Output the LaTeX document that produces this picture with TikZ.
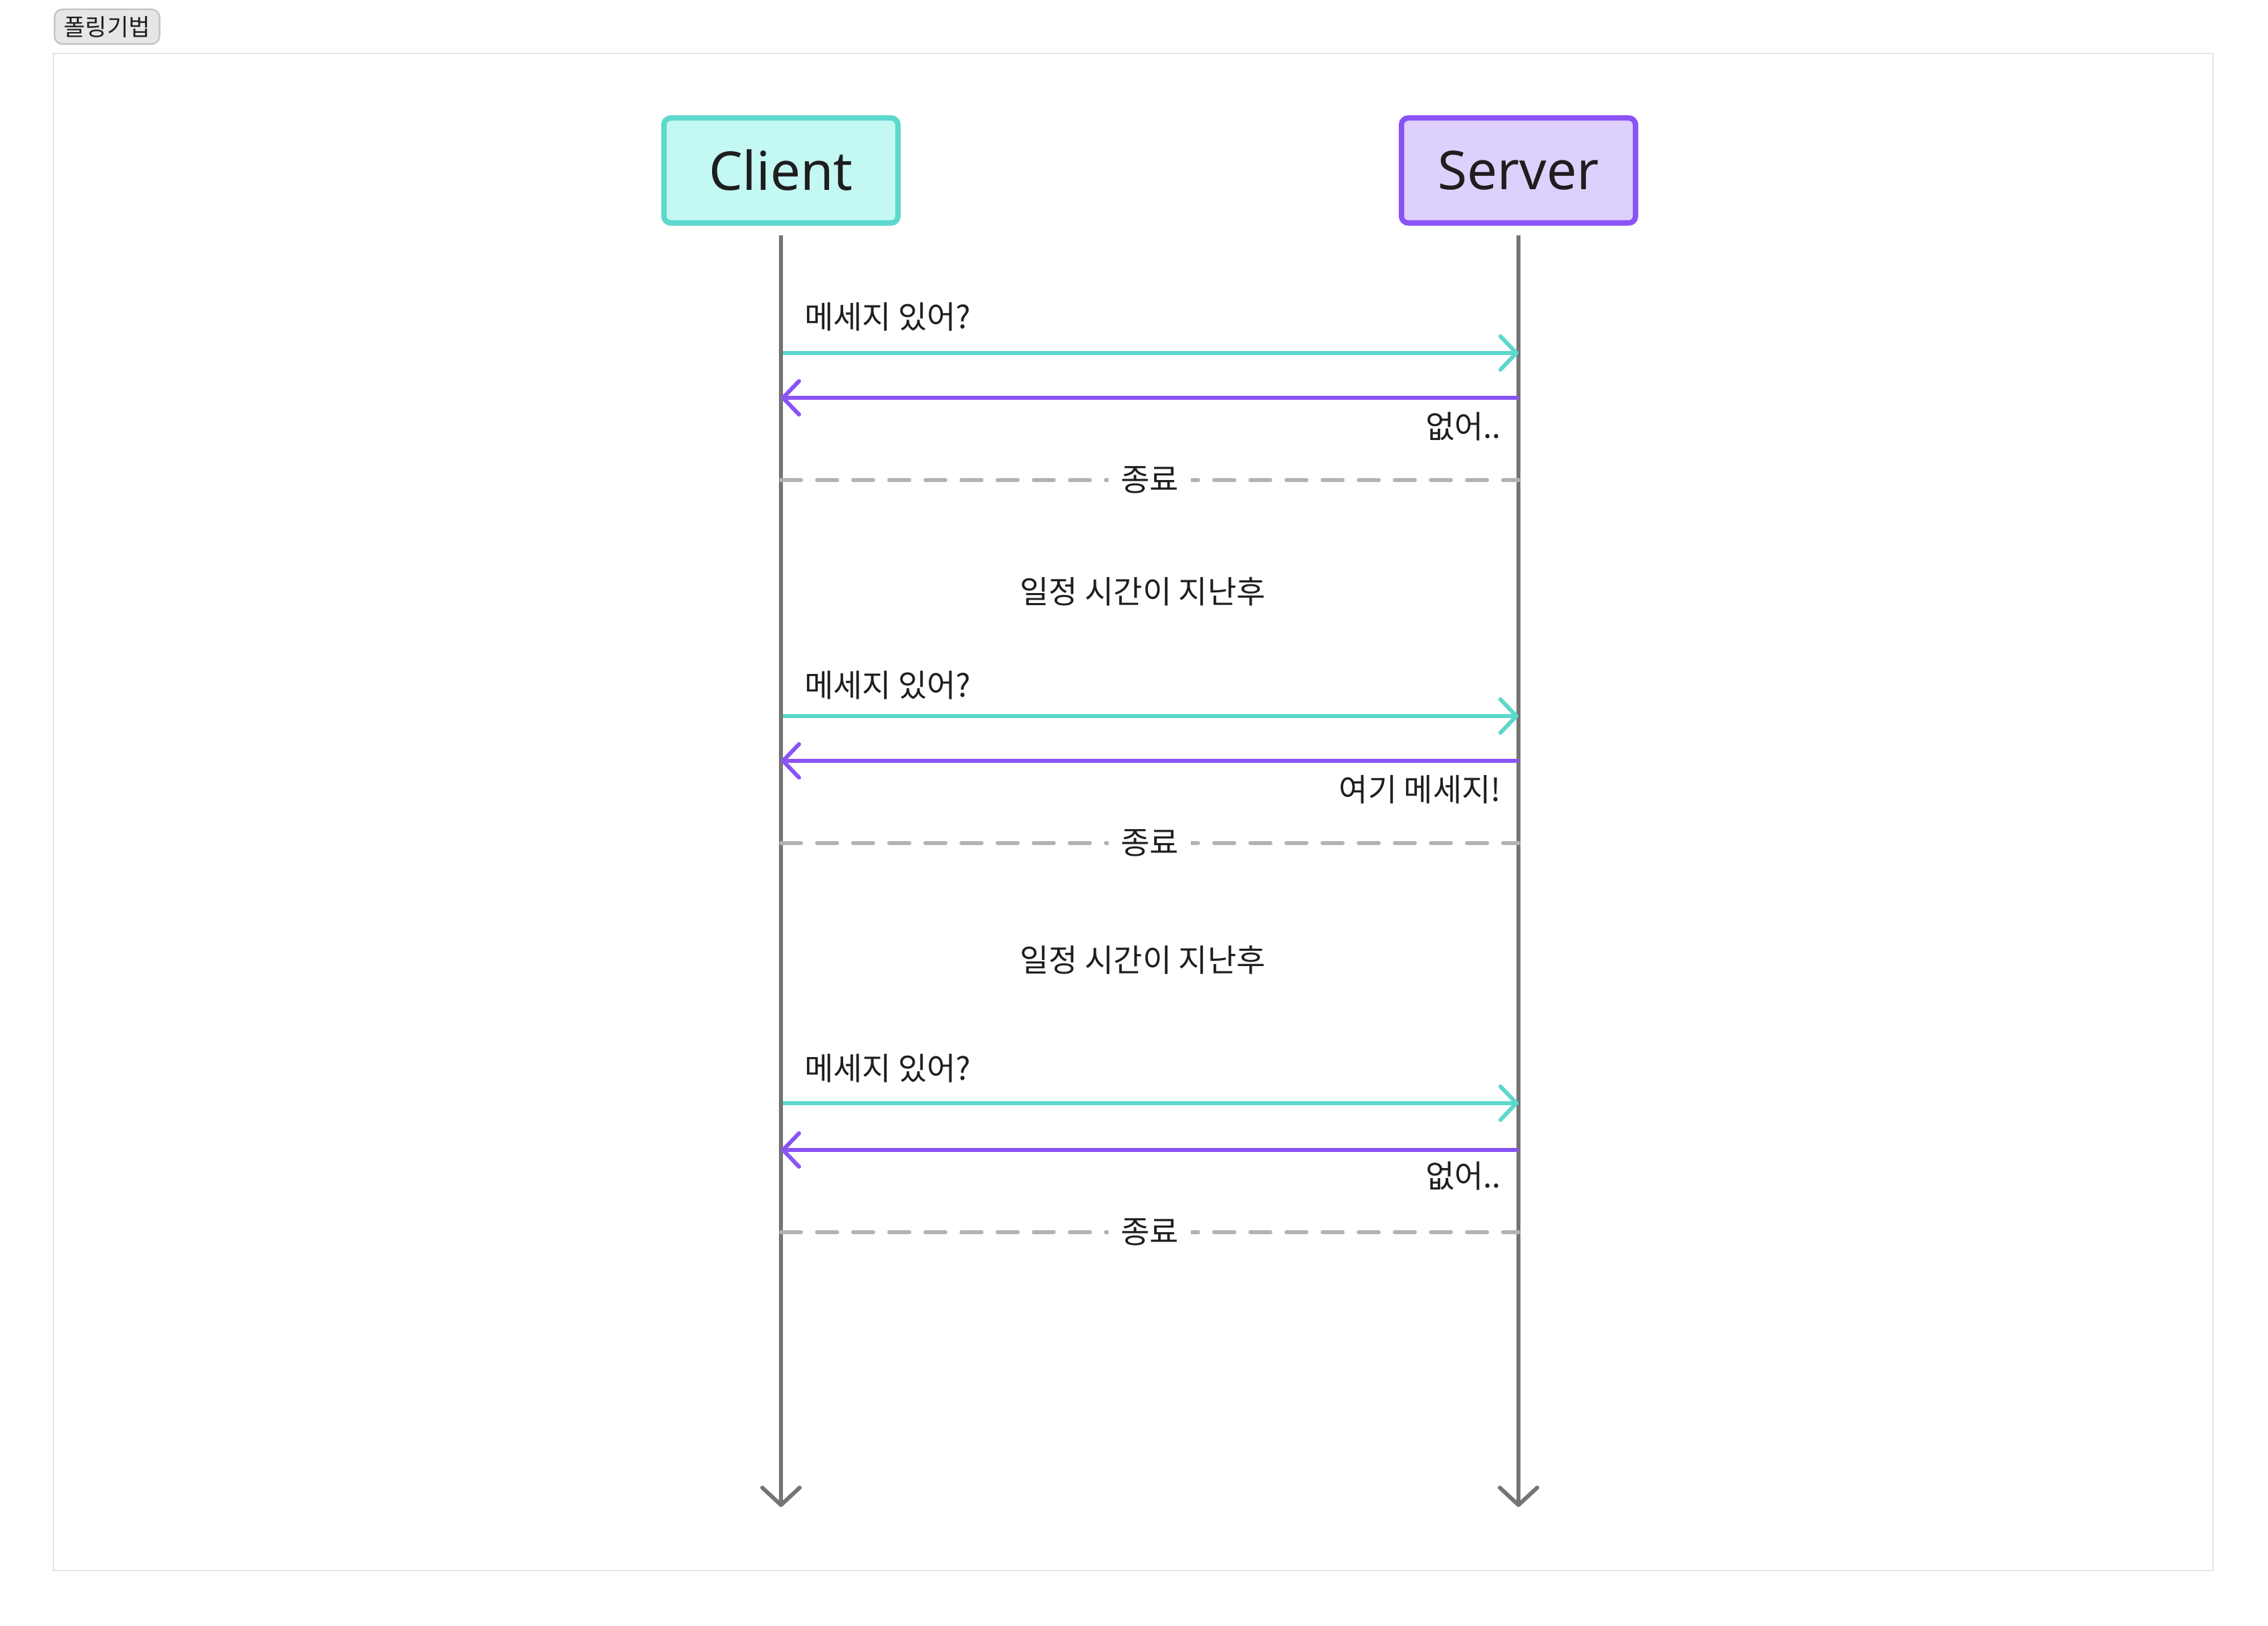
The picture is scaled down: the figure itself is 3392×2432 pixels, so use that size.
\documentclass[tikz,border=0pt]{standalone}
\usepackage{fontspec}
\setmainfont{Noto Sans CJK KR}
\newfontfamily\latinf{Noto Sans}
\usetikzlibrary{arrows.meta}
\definecolor{tealc}{HTML}{5CD8CC}
\definecolor{tealfill}{HTML}{C4F8F2}
\definecolor{purc}{HTML}{8A53F5}
\definecolor{purfill}{HTML}{DDD0FD}
\definecolor{lgray}{HTML}{757575}
\definecolor{dgray}{HTML}{B3B3B3}
\definecolor{txt}{HTML}{1E1E1E}
\definecolor{frame}{HTML}{E5E5E5}
\definecolor{tagfill}{HTML}{E6E6E6}
\definecolor{tagdraw}{HTML}{C6C6C6}
\begin{document}
\begin{tikzpicture}[x=1pt,y={(0pt,-1pt)},
  actor/.style={draw, line width=8pt, rounded corners=10pt, minimum width=350pt, minimum height=157pt, inner sep=0pt, font=\latinf\fontsize{80}{96}\selectfont, text=txt},
  lifeline/.style={draw=lgray, line width=6pt, shorten <=14pt, -{Straight Barb[length=26pt,width=56pt,round]}},
  msg/.style={line width=6pt, -{Straight Barb[length=24pt,width=50pt,round]}},
  endline/.style={draw=dgray, line width=6pt, line cap=round, dash pattern=on 30pt off 24pt},
  lbl/.style={font=\fontsize{47}{56}\selectfont, text=txt, inner sep=0pt},
  endlbl/.style={font=\fontsize{47}{56}\selectfont, text=txt, fill=white, inner xsep=18pt, inner ysep=4pt}
]
\useasboundingbox (0,0) rectangle (3392,2432);
\fill[white] (0,0) rectangle (3392,2432);
\draw[frame, line width=2pt] (80,80) rectangle (3310,2349);
\node[draw=tagdraw, fill=tagfill, line width=2.5pt, rounded corners=12pt, minimum width=157pt, minimum height=52pt, inner sep=0pt, font=\fontsize{35}{42}\selectfont, text=txt] (tag) at (160,40) {폴링기법};

\node[actor, draw=tealc, fill=tealfill] (client) at (1168,255) {Client};
\node[actor, draw=purc, fill=purfill] (server) at (2271,255) {Server};

\coordinate (cEnd) at (1168,2254);
\coordinate (sEnd) at (2271,2254);
\draw[lifeline] (client.south) -- (cEnd);
\draw[lifeline] (server.south) -- (sEnd);

% block 1
\coordinate (c1a) at (1171,528); \coordinate (s1a) at (2271,528);
\coordinate (c1b) at (1168,595); \coordinate (s1b) at (2271,595);
\coordinate (c1d) at (1168,718); \coordinate (s1d) at (2271,718);
\node[lbl, anchor=west] (q1) at (1203,474) {메세지 있어?};
\draw[msg, tealc] (c1a) -- (s1a);
\draw[msg, purc] (s1b) -- (c1b);
\node[lbl, anchor=east] (a1) at (2245,638) {없어..};
\draw[endline] (c1d) -- (s1d) node[endlbl, midway] (e1) {종료};
\node[lbl] (w1) at (1709,885) {일정 시간이 지난후};

% block 2
\coordinate (c2a) at (1171,1071); \coordinate (s2a) at (2271,1071);
\coordinate (c2b) at (1168,1138); \coordinate (s2b) at (2271,1138);
\coordinate (c2d) at (1168,1261); \coordinate (s2d) at (2271,1261);
\node[lbl, anchor=west] (q2) at (1203,1025) {메세지 있어?};
\draw[msg, tealc] (c2a) -- (s2a);
\draw[msg, purc] (s2b) -- (c2b);
\node[lbl, anchor=east] (a2) at (2245,1181) {여기 메세지!};
\draw[endline] (c2d) -- (s2d) node[endlbl, midway] (e2) {종료};
\node[lbl] (w2) at (1709,1436) {일정 시간이 지난후};

% block 3
\coordinate (c3a) at (1171,1650); \coordinate (s3a) at (2271,1650);
\coordinate (c3b) at (1168,1720); \coordinate (s3b) at (2271,1720);
\coordinate (c3d) at (1168,1843); \coordinate (s3d) at (2271,1843);
\node[lbl, anchor=west] (q3) at (1203,1598) {메세지 있어?};
\draw[msg, tealc] (c3a) -- (s3a);
\draw[msg, purc] (s3b) -- (c3b);
\node[lbl, anchor=east] (a3) at (2245,1759) {없어..};
\draw[endline] (c3d) -- (s3d) node[endlbl, midway] (e3) {종료};
\end{tikzpicture}
\end{document}
